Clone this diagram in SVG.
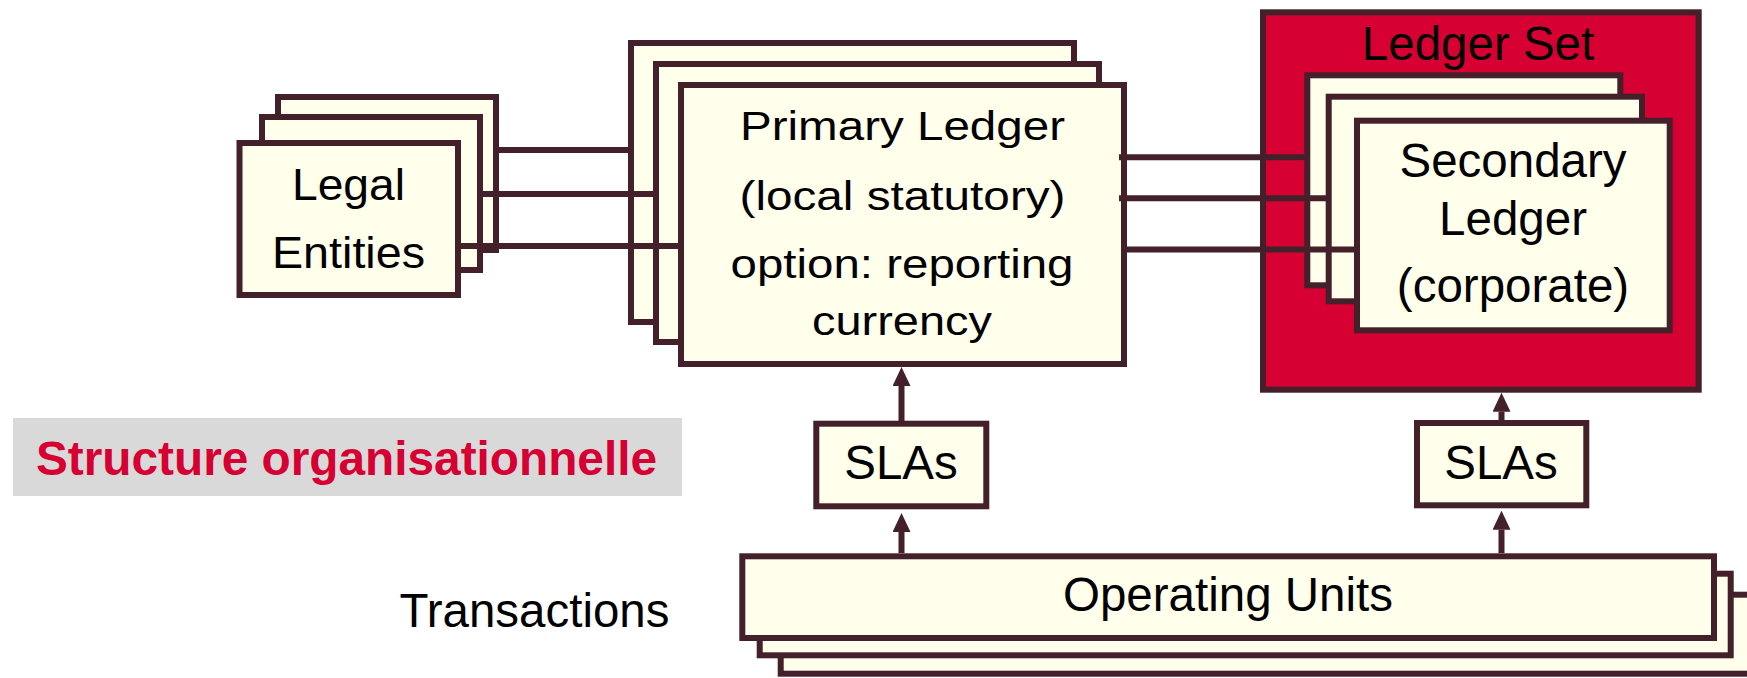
<svg xmlns="http://www.w3.org/2000/svg" width="1747" height="678" viewBox="0 0 1747 678">
  <style>
    .box { fill: #FFFFEB; stroke: #44202A; stroke-width: 6; }
    .red { fill: #D60032; stroke: #44202A; stroke-width: 6; }
    .lbl { font-family: "Liberation Sans", Arial, sans-serif; font-size: 47.5px; fill: #000000; text-anchor: middle; }
    .wide { font-size: 41px; }
    .legal { font-size: 44px; }
    .title { font-family: "Liberation Sans", Arial, sans-serif; font-size: 48px; font-weight: bold; fill: #D60032; }
    .conn { stroke: #44202A; stroke-width: 6; fill: none; }
    .arrow { stroke: #44202A; stroke-width: 6; fill: none; marker-end: url(#head); }
  </style>
  <defs>
    <marker id="head" markerUnits="userSpaceOnUse" markerWidth="19" markerHeight="18" refX="0" refY="9" orient="auto">
      <path d="M0,0 L19,9 L0,18 Z" fill="#44202A"/>
    </marker>
  </defs>

  <g id="title-label">
    <rect x="13" y="418" width="669" height="78" fill="#D9D9D9"/>
    <text class="title" x="36" y="475" textLength="621" lengthAdjust="spacingAndGlyphs">Structure organisationnelle</text>
  </g>

  <g id="legal-entities">
    <rect class="box" x="278" y="97" width="218" height="153"/>
    <rect class="box" x="262" y="117" width="218" height="153"/>
    <rect class="box" x="239.5" y="143" width="218.5" height="152"/>
    <text class="lbl legal" x="348.5" y="200" textLength="113" lengthAdjust="spacingAndGlyphs">Legal</text>
    <text class="lbl legal" x="348.5" y="268" textLength="153" lengthAdjust="spacingAndGlyphs">Entities</text>
  </g>

  <g id="primary-ledger">
    <rect class="box" x="631" y="43" width="443" height="279"/>
    <rect class="box" x="656" y="64" width="443" height="278"/>
    <rect class="box" x="681" y="85" width="443" height="279"/>
    <text class="lbl wide" x="902.5" y="140" textLength="325" lengthAdjust="spacingAndGlyphs">Primary Ledger</text>
    <text class="lbl wide" x="902.5" y="210" textLength="326" lengthAdjust="spacingAndGlyphs">(local statutory)</text>
    <text class="lbl wide" x="902" y="278" textLength="343" lengthAdjust="spacingAndGlyphs">option: reporting</text>
    <text class="lbl wide" x="902" y="335" textLength="180" lengthAdjust="spacingAndGlyphs">currency</text>
  </g>

  <g id="ledger-set">
    <rect class="red" x="1263" y="12.3" width="435.7" height="377.4"/>
    <text class="lbl" x="1478" y="60">Ledger Set</text>
  </g>

  <g id="secondary-ledger">
    <rect class="box" x="1307.3" y="75.3" width="313" height="210"/>
    <rect class="box" x="1328.7" y="96.7" width="313.3" height="204.6"/>
    <rect class="box" x="1357" y="120.7" width="312.7" height="209.6"/>
    <text class="lbl" x="1513" y="176.5">Secondary</text>
    <text class="lbl" x="1513" y="235">Ledger</text>
    <text class="lbl" x="1513" y="301.5">(corporate)</text>
  </g>

  <g id="sla-primary">
    <rect class="box" x="816.3" y="423.7" width="170" height="82.6"/>
    <text class="lbl" x="901" y="479.3">SLAs</text>
  </g>

  <g id="sla-secondary">
    <rect class="box" x="1417" y="423" width="169.3" height="82.3"/>
    <text class="lbl" x="1501" y="479.3">SLAs</text>
  </g>

  <g id="operating-units">
    <rect class="box" x="780.7" y="594.7" width="971" height="79"/>
    <rect class="box" x="759.7" y="573.7" width="971" height="81.6"/>
    <rect class="box" x="742.3" y="556.3" width="971.7" height="81.7"/>
    <text class="lbl" x="1228" y="611">Operating Units</text>
  </g>

  <g id="transactions-label">
    <text class="lbl" x="534.5" y="627" textLength="270" lengthAdjust="spacingAndGlyphs">Transactions</text>
  </g>

  <g id="connectors">
    <line class="conn" x1="499" y1="150" x2="628.5" y2="150"/>
    <line class="conn" x1="483" y1="194" x2="653.5" y2="194"/>
    <line class="conn" x1="461" y1="246" x2="678.5" y2="246"/>
    <line class="conn" x1="1119" y1="157.3" x2="1304.5" y2="157.3"/>
    <line class="conn" x1="1119" y1="198.3" x2="1326" y2="198.3"/>
    <line class="conn" x1="1127" y1="249.5" x2="1354.5" y2="249.5"/>
    <line class="arrow" x1="901.5" y1="421" x2="901.5" y2="386"/>
    <line class="arrow" x1="901.5" y1="553" x2="901.5" y2="532"/>
    <line class="arrow" x1="1501.5" y1="420" x2="1501.5" y2="411.7"/>
    <line class="arrow" x1="1501.5" y1="553" x2="1501.5" y2="529.7"/>
  </g>
</svg>
